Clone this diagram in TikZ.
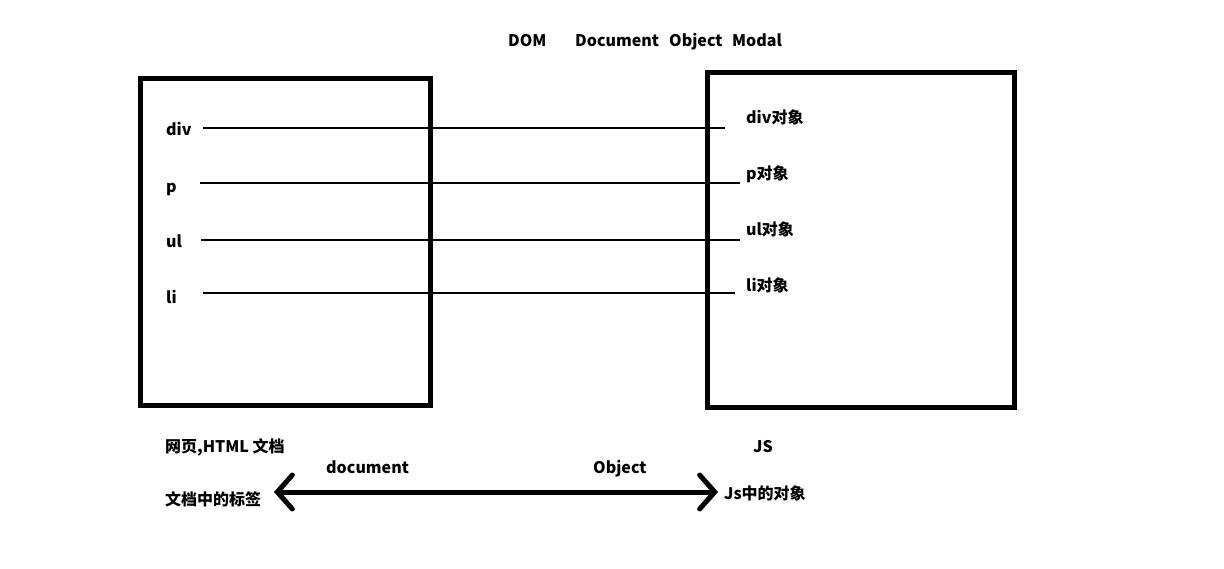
\documentclass[tikz,border=0pt]{standalone}
\usepackage{fontspec}
\setmainfont{Noto Sans CJK SC}
\usetikzlibrary{arrows.meta}
\begin{document}
\begin{tikzpicture}[x=1pt,y=-1pt,
  lbl/.style={font=\fontsize{16}{18}\selectfont\bfseries, inner sep=0pt, anchor=west, text height=12pt, text depth=3pt, yshift=-2pt},
  frame/.style={draw=black, line width=5pt},
  link/.style={draw=black, line width=1.3pt},
  bigarrow/.style={draw=black, line width=5pt, line cap=round,
    {Straight Barb[length=15pt,width=34pt,line cap=round]}-{Straight Barb[length=15pt,width=34pt,line cap=round]}}]
\useasboundingbox (0,0) rectangle (1224,569);
% boxes
\draw[frame] (140.5,78.5) rectangle (430,405.5);
\draw[frame] (707.5,72.5) rectangle (1014.5,407.5);
% title
\node[lbl] (t1) at (508,40) {DOM};
\node[lbl] (t2) at (575,40) {Document};
\node[lbl] (t3) at (669,40) {Object};
\node[lbl] (t4) at (732,40) {Modal};
% left labels
\node[lbl] (ldiv) at (166,129) {div};
\node[lbl] (lp) at (166,186) {p};
\node[lbl] (lul) at (166,241) {ul};
\node[lbl] (lli) at (166,297) {li};
% right labels
\node[lbl] (rdiv) at (746,117) {div对象};
\node[lbl] (rp) at (746,173) {p对象};
\node[lbl] (rul) at (746,229) {ul对象};
\node[lbl] (rli) at (746,285) {li对象};
% line ends
\coordinate (ediv) at (725,128);
\coordinate (ep) at (740,183);
\coordinate (eul) at (740,240);
\coordinate (eli) at (735,293);
\coordinate (sdiv) at (203,128);
\coordinate (sp) at (200,183);
\coordinate (sul) at (201,240);
\coordinate (sli) at (203,293);
\draw[link] (sdiv) -- (ediv);
\draw[link] (sp) -- (ep);
\draw[link] (sul) -- (eul);
\draw[link] (sli) -- (eli);
% bottom texts
\node[lbl] (html) at (165,446) {网页,HTML 文档};
\node[lbl] (js) at (753,446) {JS};
\node[lbl] (doc) at (326,467) {document};
\node[lbl] (obj) at (593,467) {Object};
\node[lbl] (tag) at (165,499) {文档中的标签};
\node[lbl] (jsobj) at (724,493) {Js中的对象};
\coordinate (al) at (274,492);
\coordinate (ar) at (718,492);
\draw[bigarrow] (al) -- (ar);
\end{tikzpicture}
\end{document}
